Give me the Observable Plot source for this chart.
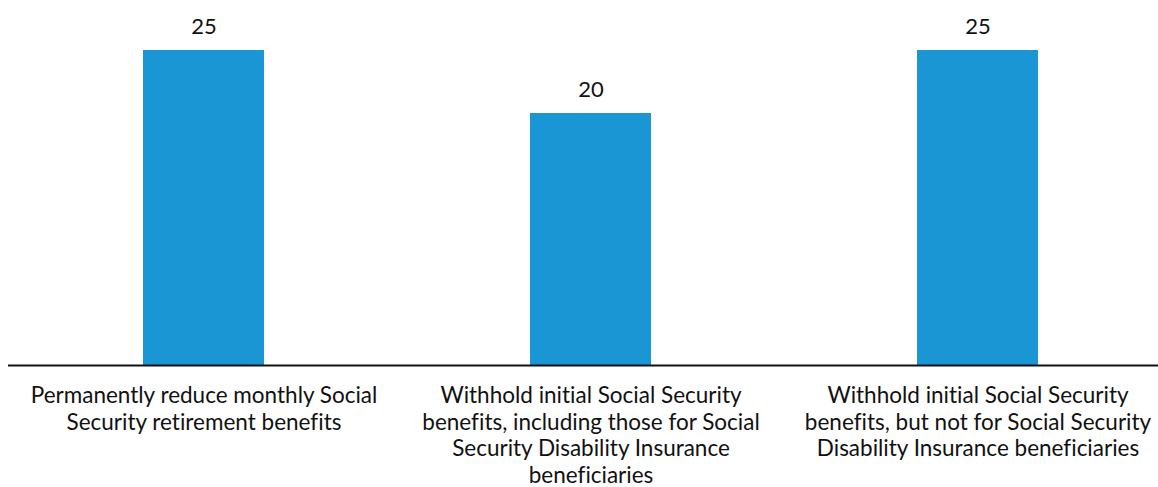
<!DOCTYPE html>
<html>
<head>
<meta charset="utf-8">
<script src="https://cdn.jsdelivr.net/npm/d3@7"></script>
<script src="https://cdn.jsdelivr.net/npm/@observablehq/plot@0.6"></script>
<style>
  html, body { margin: 0; padding: 0; background: #fff; }
  #chart svg { display: block; font-variant-ligatures: none; }
</style>
</head>
<body>
<div id="chart"></div>
<script>
const categories = [
  "Permanently reduce monthly Social\nSecurity retirement benefits",
  "Withhold initial Social Security\nbenefits, including those for Social\nSecurity Disability Insurance\nbeneficiaries",
  "Withhold initial Social Security\nbenefits, but not for Social Security\nDisability Insurance beneficiaries"
];
const values = [25, 20, 25];

const data = categories.map((c, i) => ({category: c, value: values[i]}));

const chart = Plot.plot({
  width: 1158,
  height: 487,
  marginTop: 50,
  marginBottom: 122,
  marginLeft: 8,
  marginRight: 0,
  style: {fontFamily: "Lato, sans-serif", fontSize: "19px", color: "#111", background: "#fff", fontVariantLigatures: "none"},
  x: {domain: categories, range: [142, 1039], paddingInner: 0.688, paddingOuter: 0},
  y: {domain: [0, 25], axis: null},
  marks: [
    Plot.barY(data, {x: "category", y: "value", fill: "#1996d3"}),
    Plot.text(data, {x: "category", y: "value", text: d => String(d.value), dy: -24, fontSize: 22, fill: "#111"}),
    Plot.ruleY([0], {stroke: "#111", strokeWidth: 2}),
    Plot.axisX({tickSize: 0, tickPadding: 19, fontSize: 22.5, lineHeight: 1.18, label: null, fill: "#111"})
  ]
});
document.getElementById("chart").appendChild(chart);
</script>
</body>
</html>
